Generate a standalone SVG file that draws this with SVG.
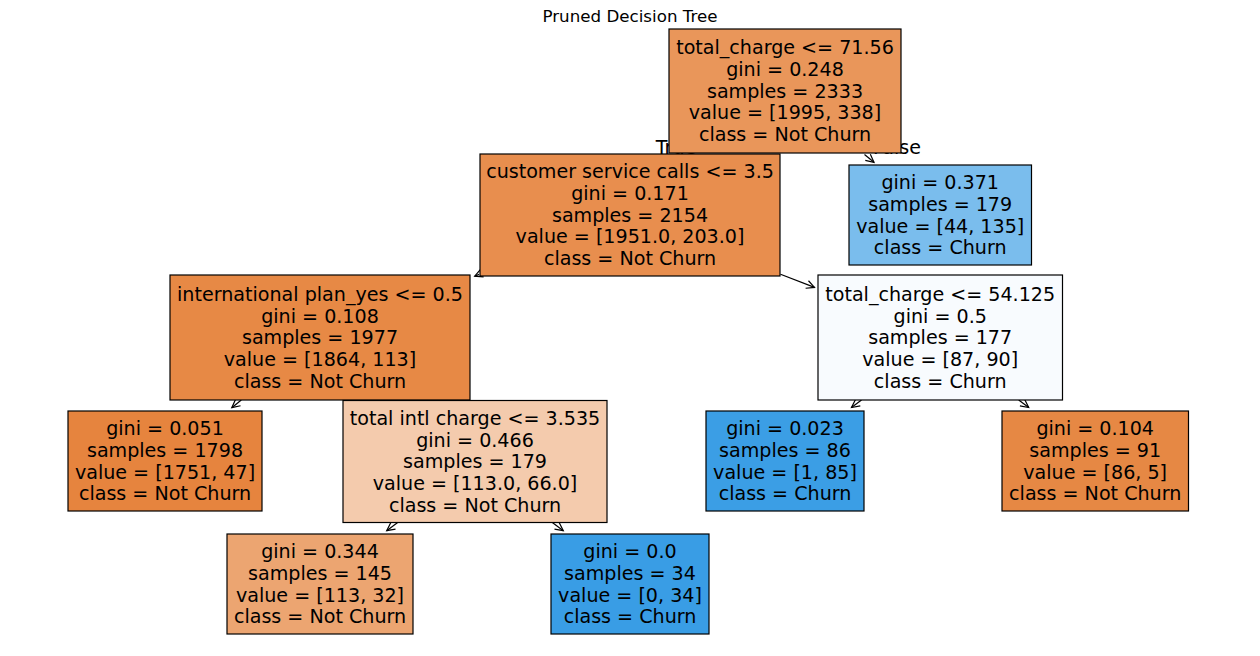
<svg xmlns="http://www.w3.org/2000/svg" width="1260" height="656" viewBox="0 0 1260 656">
<style>
.t{font-family:"DejaVu Sans","Liberation Sans",sans-serif;font-size:19.1px;fill:#000;text-anchor:middle}
.title{font-family:"DejaVu Sans","Liberation Sans",sans-serif;font-size:16.7px;fill:#000;text-anchor:middle}
.box{stroke:#000;stroke-width:1.2}
.edge{stroke:#000;stroke-width:1.2;fill:none;marker-end:url(#ah)}
</style>
<defs>
<marker id="ah" markerUnits="userSpaceOnUse" markerWidth="20" markerHeight="20" viewBox="-10 -10 20 20" refX="0" refY="0" orient="auto" overflow="visible">
<path d="M-8,-4 L0,0 L-8,4" fill="none" stroke="#000" stroke-width="1.2"/>
</marker>
</defs>
<rect width="1260" height="656" fill="#fff"/>
<text class="title" x="630" y="21.7">Pruned Decision Tree</text>
<g id="edge-labels">
<text class="t" x="676" y="154">True</text>
<text class="t" x="897" y="154">False</text>
</g>
<g id="connectors">
<line class="edge" x1="864.5" y1="154.5" x2="874" y2="162.3"/>
<line class="edge" x1="479" y1="274.4" x2="474.7" y2="276.2"/>
<line class="edge" x1="780.5" y1="274.2" x2="814.5" y2="287.4"/>
<line class="edge" x1="241.3" y1="400" x2="231.8" y2="407.7"/>
<line class="edge" x1="398" y1="522.3" x2="386.7" y2="530.7"/>
<line class="edge" x1="552" y1="522.3" x2="563.3" y2="530.7"/>
<line class="edge" x1="861.5" y1="400" x2="851.5" y2="407.5"/>
<line class="edge" x1="1018.7" y1="400" x2="1028.7" y2="407.5"/>
</g>
<g id="node-root">
<rect class="box" x="669" y="29" width="232" height="124" fill="#e9965a"/>
<text class="t"><tspan x="785" y="54.3">total_charge &lt;= 71.56</tspan><tspan x="785" y="76">gini = 0.248</tspan><tspan x="785" y="97.7">samples = 2333</tspan><tspan x="785" y="119.4">value = [1995, 338]</tspan><tspan x="785" y="141.1">class = Not Churn</tspan></text>
</g>
<g id="node-customer">
<rect class="box" x="480" y="154" width="300" height="122" fill="#e88e4e"/>
<text class="t"><tspan x="630" y="178.3">customer service calls &lt;= 3.5</tspan><tspan x="630" y="200">gini = 0.171</tspan><tspan x="630" y="221.7">samples = 2154</tspan><tspan x="630" y="243.4">value = [1951.0, 203.0]</tspan><tspan x="630" y="265.1">class = Not Churn</tspan></text>
</g>
<g id="node-leaf-0371">
<rect class="box" x="849" y="165" width="182.5" height="100" fill="#7abded"/>
<text class="t"><tspan x="940.2" y="189.2">gini = 0.371</tspan><tspan x="940.2" y="210.9">samples = 179</tspan><tspan x="940.2" y="232.6">value = [44, 135]</tspan><tspan x="940.2" y="254.3">class = Churn</tspan></text>
</g>
<g id="node-intl-plan">
<rect class="box" x="170" y="275" width="300" height="125" fill="#e78945"/>
<text class="t"><tspan x="320" y="300.8">international plan_yes &lt;= 0.5</tspan><tspan x="320" y="322.5">gini = 0.108</tspan><tspan x="320" y="344.2">samples = 1977</tspan><tspan x="320" y="365.9">value = [1864, 113]</tspan><tspan x="320" y="387.6">class = Not Churn</tspan></text>
</g>
<g id="node-total-charge-54">
<rect class="box" x="818" y="275" width="244.5" height="125" fill="#f8fbfe"/>
<text class="t"><tspan x="940.2" y="300.8">total_charge &lt;= 54.125</tspan><tspan x="940.2" y="322.5">gini = 0.5</tspan><tspan x="940.2" y="344.2">samples = 177</tspan><tspan x="940.2" y="365.9">value = [87, 90]</tspan><tspan x="940.2" y="387.6">class = Churn</tspan></text>
</g>
<g id="node-leaf-0051">
<rect class="box" x="68" y="411" width="194" height="100" fill="#e6843e"/>
<text class="t"><tspan x="165" y="435.2">gini = 0.051</tspan><tspan x="165" y="456.9">samples = 1798</tspan><tspan x="165" y="478.6">value = [1751, 47]</tspan><tspan x="165" y="500.3">class = Not Churn</tspan></text>
</g>
<g id="node-total-intl-charge">
<rect class="box" x="343" y="400.5" width="264" height="122" fill="#f4cbad"/>
<text class="t"><tspan x="475" y="424.8">total intl charge &lt;= 3.535</tspan><tspan x="475" y="446.5">gini = 0.466</tspan><tspan x="475" y="468.2">samples = 179</tspan><tspan x="475" y="489.9">value = [113.0, 66.0]</tspan><tspan x="475" y="511.6">class = Not Churn</tspan></text>
</g>
<g id="node-leaf-0023">
<rect class="box" x="706" y="411" width="158" height="100" fill="#3b9ee5"/>
<text class="t"><tspan x="785" y="435.2">gini = 0.023</tspan><tspan x="785" y="456.9">samples = 86</tspan><tspan x="785" y="478.6">value = [1, 85]</tspan><tspan x="785" y="500.3">class = Churn</tspan></text>
</g>
<g id="node-leaf-0104">
<rect class="box" x="1002" y="411" width="186.5" height="100" fill="#e68844"/>
<text class="t"><tspan x="1095.2" y="435.2">gini = 0.104</tspan><tspan x="1095.2" y="456.9">samples = 91</tspan><tspan x="1095.2" y="478.6">value = [86, 5]</tspan><tspan x="1095.2" y="500.3">class = Not Churn</tspan></text>
</g>
<g id="node-leaf-0344">
<rect class="box" x="227" y="534" width="186" height="100" fill="#eca571"/>
<text class="t"><tspan x="320" y="558.2">gini = 0.344</tspan><tspan x="320" y="579.9">samples = 145</tspan><tspan x="320" y="601.6">value = [113, 32]</tspan><tspan x="320" y="623.3">class = Not Churn</tspan></text>
</g>
<g id="node-leaf-00">
<rect class="box" x="551" y="534" width="158" height="100" fill="#399de5"/>
<text class="t"><tspan x="630" y="558.2">gini = 0.0</tspan><tspan x="630" y="579.9">samples = 34</tspan><tspan x="630" y="601.6">value = [0, 34]</tspan><tspan x="630" y="623.3">class = Churn</tspan></text>
</g>
</svg>
